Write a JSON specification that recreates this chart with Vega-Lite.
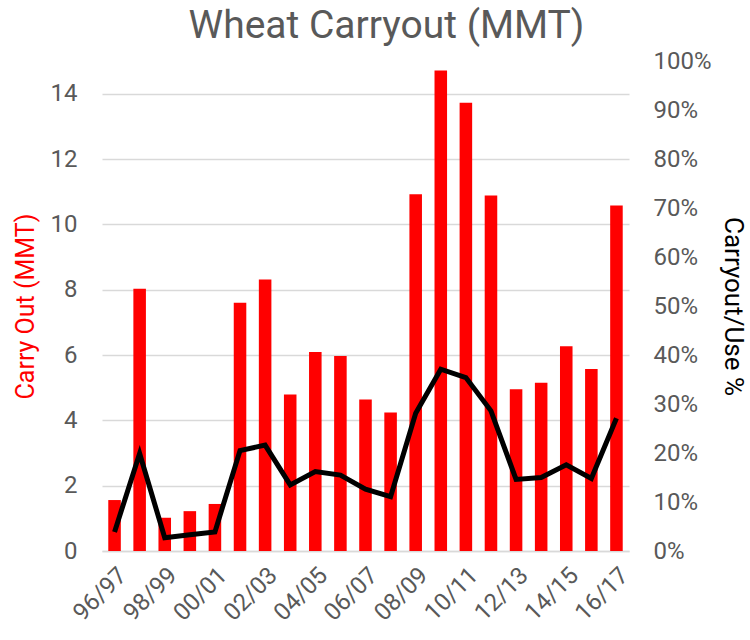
{
  "$schema": "https://vega.github.io/schema/vega-lite/v6.json",
  "autosize": {"type": "none"},
  "width": 527,
  "height": 490,
  "padding": {"left": 102, "top": 61, "right": 121, "bottom": 89},
  "background": "white",
  "title": {
    "text": "Wheat Carryout (MMT)",
    "font": "Roboto",
    "fontSize": 39,
    "fontWeight": "normal",
    "color": "#595959",
    "anchor": "middle",
    "frame": "group",
    "baseline": "bottom",
    "offset": 22,
    "dx": 21,
    "dy": 58
  },
  "config": {
    "view": {"stroke": null},
    "axis": {"labelFont": "Roboto", "titleFont": "Roboto", "labelColor": "#595959", "labelFontSize": 24, "titleFontSize": 25, "titleFontWeight": "normal"}
  },
  "data": {
    "values": [
      {"year": "96/97", "carryout": 1.56, "ratio": 0.039},
      {"year": "97/98", "carryout": 8.03, "ratio": 0.199},
      {"year": "98/99", "carryout": 1.02, "ratio": 0.027},
      {"year": "99/00", "carryout": 1.22, "ratio": 0.033},
      {"year": "00/01", "carryout": 1.44, "ratio": 0.039},
      {"year": "01/02", "carryout": 7.6, "ratio": 0.205},
      {"year": "02/03", "carryout": 8.31, "ratio": 0.216},
      {"year": "03/04", "carryout": 4.79, "ratio": 0.135},
      {"year": "04/05", "carryout": 6.09, "ratio": 0.162},
      {"year": "05/06", "carryout": 5.97, "ratio": 0.155},
      {"year": "06/07", "carryout": 4.64, "ratio": 0.126},
      {"year": "07/08", "carryout": 4.24, "ratio": 0.111},
      {"year": "08/09", "carryout": 10.92, "ratio": 0.281},
      {"year": "09/10", "carryout": 14.71, "ratio": 0.371},
      {"year": "10/11", "carryout": 13.72, "ratio": 0.354},
      {"year": "11/12", "carryout": 10.88, "ratio": 0.286},
      {"year": "12/13", "carryout": 4.95, "ratio": 0.146},
      {"year": "13/14", "carryout": 5.15, "ratio": 0.15},
      {"year": "14/15", "carryout": 6.27, "ratio": 0.176},
      {"year": "15/16", "carryout": 5.57, "ratio": 0.148},
      {"year": "16/17", "carryout": 10.58, "ratio": 0.271}
    ]
  },
  "encoding": {
    "x": {
      "field": "year",
      "type": "nominal",
      "sort": null,
      "scale": {"paddingInner": 0.5, "paddingOuter": 0.25},
      "axis": {
        "title": null,
        "labelAngle": -45,
        "values": ["96/97", "98/99", "00/01", "02/03", "04/05", "06/07", "08/09", "10/11", "12/13", "14/15", "16/17"],
        "ticks": false,
        "domain": true,
        "domainColor": "#d9d9d9",
        "domainWidth": 1.5,
        "labelPadding": 12
      }
    }
  },
  "layer": [
    {
      "mark": {"type": "bar", "color": "#ff0000"},
      "encoding": {
        "y": {
          "field": "carryout",
          "type": "quantitative",
          "scale": {"domain": [0, 15], "nice": false},
          "axis": {
            "title": "Carry Out (MMT)",
            "titleColor": "#ff0000",
            "values": [0, 2, 4, 6, 8, 10, 12, 14],
            "grid": true,
            "gridColor": "#d9d9d9",
            "gridWidth": 1.5,
            "ticks": false,
            "domain": false,
            "labelPadding": 25,
            "titlePadding": 12
          }
        }
      }
    },
    {
      "mark": {"type": "line", "color": "#000000", "strokeWidth": 5},
      "encoding": {
        "y": {
          "field": "ratio",
          "type": "quantitative",
          "scale": {"domain": [0, 1], "nice": false},
          "axis": {
            "orient": "right",
            "title": "Carryout/Use %",
            "titleColor": "#000000",
            "titleFontSize": 26,
            "format": ".0%",
            "values": [0, 0.1, 0.2, 0.3, 0.4, 0.5, 0.6, 0.7, 0.8, 0.9, 1],
            "grid": false,
            "ticks": false,
            "domain": false,
            "labelPadding": 24,
            "titlePadding": 8
          }
        }
      }
    }
  ],
  "resolve": {"scale": {"y": "independent"}}
}
